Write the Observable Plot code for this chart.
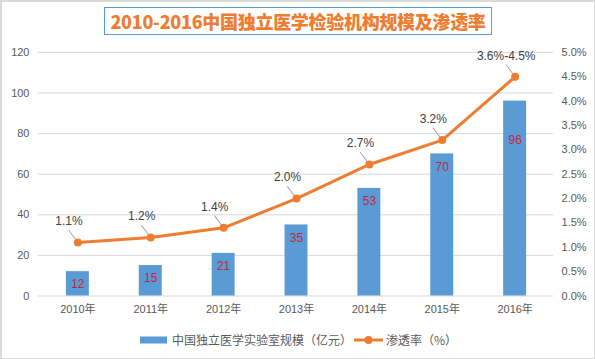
<!DOCTYPE html>
<html><head><meta charset="utf-8">
<script src="https://cdn.jsdelivr.net/npm/d3@7"></script>
<script src="https://cdn.jsdelivr.net/npm/@observablehq/plot@0.6"></script>
<style>
html,body{margin:0;padding:0;background:#fff;}
#wrap{position:relative;width:595px;height:359px;box-sizing:border-box;border:1px solid #d9d9d9;border-top-width:2px;border-left-width:2px;overflow:hidden;font-family:"Liberation Sans","Noto Sans CJK SC",sans-serif;}
#chart{position:absolute;left:-2px;top:-2px;}
#title{position:absolute;left:102px;top:5px;width:386px;height:26px;border:1px solid #5B9BD5;background:#fff;color:#ED7D31;font-family:"Noto Sans CJK SC",sans-serif;font-weight:900;font-size:18px;line-height:26px;text-align:center;white-space:nowrap;letter-spacing:-0.3px;z-index:2;}
.lg{position:absolute;top:329px;height:18px;line-height:18px;font-size:12px;color:#595959;font-family:"Noto Sans CJK SC",sans-serif;white-space:nowrap;}
</style></head>
<body>
<div id="wrap">
<div id="chart"></div>
<div id="title">2010-2016中国独立医学检验机构规模及渗透率</div>
<svg class="lg" style="left:138px" width="28" height="18"><rect x="0" y="5.5" width="27" height="7" fill="#5B9BD5"/></svg>
<span class="lg" style="left:170px">中国独立医学实验室规模（亿元）</span>
<svg class="lg" style="left:352px" width="30" height="18"><line x1="0" y1="9" x2="29" y2="9" stroke="#ED7D31" stroke-width="3"/><circle cx="14.5" cy="9" r="4" fill="#ED7D31"/></svg>
<span class="lg" style="left:384px">渗透率（%）</span>
</div>
<script>
const years = ["2010年","2011年","2012年","2013年","2014年","2015年","2016年"];
const marketSize = [12, 15, 21, 35, 53, 70, 96];
const penetration = [1.1, 1.2, 1.4, 2.0, 2.7, 3.2, 4.5];
const penetrationLabels = ["1.1%","1.2%","1.4%","2.0%","2.7%","3.2%","3.6%-4.5%"];
const leftTicks = [0, 20, 40, 60, 80, 100, 120];
const rightTicks = [0, 0.5, 1.0, 1.5, 2.0, 2.5, 3.0, 3.5, 4.0, 4.5, 5.0];
const RATIO = 120 / 5; // right axis max 5% aligns with left 120

const rows = years.map((y, i) => ({year: y, size: marketSize[i], rate: penetration[i], label: penetrationLabels[i]}));
const leaderShape = {draw(context, l) { context.moveTo(0, -4.5); context.lineTo(0, -l); }};

const chart = Plot.plot({
  width: 595, height: 359,
  marginTop: 52, marginBottom: 63, marginLeft: 38, marginRight: 41,
  style: {fontFamily: "'Liberation Sans','Noto Sans CJK SC',sans-serif", fontSize: "11px", color: "#595959", background: "transparent"},
  x: {domain: years, paddingInner: 0.69, paddingOuter: 0.345},
  y: {domain: [0, 120]},
  marks: [
    Plot.gridY(leftTicks, {stroke: "#d9d9d9", strokeOpacity: 1}),
    Plot.axisY(leftTicks, {tickSize: 0, tickPadding: 9, label: null, fill: "#595959"}),
    Plot.axisY(rightTicks.map(d => d * RATIO), {anchor: "right", tickSize: 0, tickPadding: 8, label: null, fill: "#595959", tickFormat: d => (d / RATIO).toFixed(1) + "%"}),
    Plot.axisX({tickSize: 0, tickPadding: 9, label: null, fill: "#595959"}),
    Plot.barY(rows, {x: "year", y: "size", fill: "#5B9BD5"}),
    Plot.text(rows.slice(0, 6), {x: "year", y: "size", text: d => String(d.size), dy: 13, fill: "#C0283C", fontSize: 12}),
    Plot.text(rows.slice(6), {x: "year", y: "size", text: d => String(d.size), dy: 39, fill: "#C0283C", fontSize: 12}),
    Plot.lineY(rows, {x: "year", y: d => d.rate * RATIO, stroke: "#ED7D31", strokeWidth: 3}),
    Plot.vector(rows, {x: "year", y: d => d.rate * RATIO, length: 15, rotate: -37, anchor: "start", stroke: "#a6a6a6", strokeWidth: 1, shape: leaderShape}),
    Plot.dot(rows, {x: "year", y: d => d.rate * RATIO, r: 4, fill: "#ED7D31"}),
    Plot.text(rows, {x: "year", y: d => d.rate * RATIO, text: "label", dx: -9, dy: -21, fill: "#404040", fontSize: 12})
  ]
});
document.getElementById("chart").appendChild(chart);
</script>
</body></html>
